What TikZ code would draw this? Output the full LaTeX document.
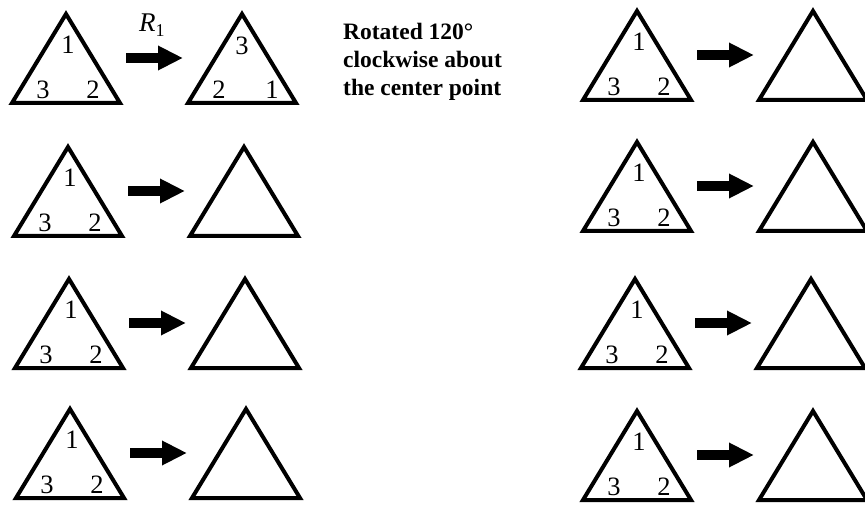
\documentclass[tikz,border=0pt]{standalone}
\usepackage{fontspec}
\setmainfont{Liberation Serif}
\usetikzlibrary{arrows.meta}

\tikzset{
  tri/.style={line width=4pt, line join=miter},
  fatarrow/.style={line width=10pt, -{Triangle[length=25pt, width=23pt]}},
  digit/.style={font=\fontsize{26.5}{26.5}\selectfont, inner sep=0pt}
}

\begin{document}
\begin{tikzpicture}[x=1pt, y=-1pt]
\useasboundingbox (0,0) rectangle (865,505);
\clip (0,0) rectangle (865,505);

% one row per entry: apex x, apex y, row number
\foreach \ax/\ay/\n in {66/10/1, 68/143/2, 69/275/3, 70/405/4,
                        637/7/5, 637/138/6, 635/275/7, 637/407/8} {
  \pgfmathsetmacro{\bx}{\ax+176}
  \coordinate (A\n) at (\ax,\ay+4);
  \coordinate (B\n) at (\bx,\ay+4);
  \coordinate (S\n) at (\ax+60,\ay+48);
  \coordinate (E\n) at (\ax+117,\ay+48);

  \draw[tri] (A\n) -- (\ax+54,\ay+93) -- (\ax-54,\ay+93) -- cycle;
  \draw[tri] (B\n) -- (\bx+54,\ay+93) -- (\bx-54,\ay+93) -- cycle;
  \draw[fatarrow] (S\n) -- (E\n);

  \node[digit] (top\n) at (\ax+2,\ay+35) {1};
  \node[digit] (left\n) at (\ax-23,\ay+80) {3};
  \node[digit] (right\n) at (\ax+27,\ay+80) {2};
}

% result of the first rotation
\node[digit] (rtop) at (242,46) {3};
\node[digit] (rleft) at (219,90) {2};
\node[digit] (rright) at (272,90) {1};

\node[font=\fontsize{27}{27}\selectfont, inner sep=0pt, anchor=base west] (rlbl)
  at (139,32) {\textit{R}\raisebox{-5pt}{\fontsize{18}{18}\selectfont 1}};

\node[font=\bfseries\fontsize{23.5}{28}\selectfont, align=left, anchor=north west,
  inner sep=0pt] (note) at (343,23) {Rotated 120°\\clockwise about\\the center point};
\end{tikzpicture}
\end{document}
